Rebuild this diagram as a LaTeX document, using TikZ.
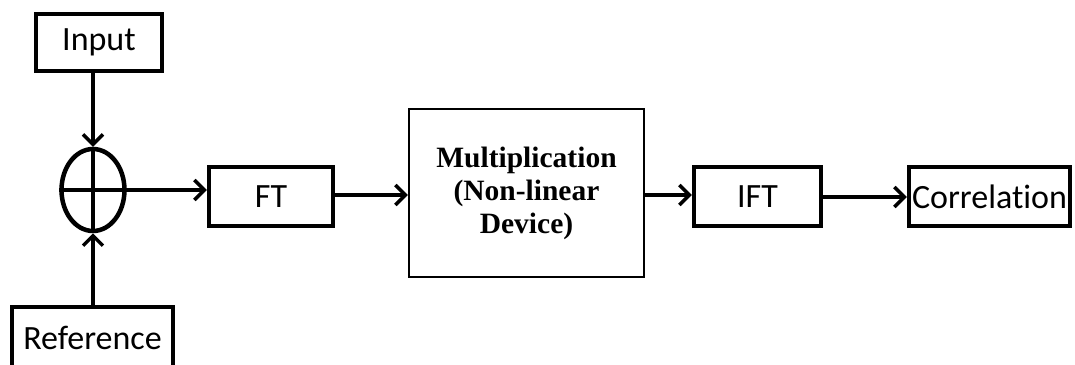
\documentclass[tikz,border=0pt]{standalone}
\usepackage{fontspec}
\setmainfont[Ligatures=NoCommon]{Carlito}
\newfontfamily\serifbold{Liberation Serif}
\usetikzlibrary{arrows.meta,shapes.geometric}
\tikzset{
  x=1pt, y=-1pt,
  blockbox/.style={draw, line width=4.5pt, inner sep=0pt, font=\fontsize{34}{38}\selectfont},
  bigbox/.style={draw, line width=2.2pt, inner sep=0pt, align=center,
    font=\serifbold\bfseries\fontsize{29.5}{33}\selectfont},
  flow/.style={line width=3.5pt, -{Straight Barb[length=10pt,width=20pt,line width=3.5pt]}},
  plain/.style={line width=3.5pt},
}
\begin{document}
\begin{tikzpicture}
\useasboundingbox (0,0) rectangle (1075,364);
\clip (0,0) rectangle (1075,364);
\fill[white] (0,0) rectangle (1075,364);

% blocks
\node[blockbox, minimum width=126pt, minimum height=57pt] (input) at (99,42.5) {Input};
\node[blockbox, minimum width=161pt, minimum height=64pt, text depth=0pt] (ref) at (92.5,339) {\raisebox{3pt}{Reference}};
\node[draw, ellipse, line width=4.5pt, minimum width=63pt, minimum height=82pt, inner sep=0pt] (sum) at (93,190) {};
\node[blockbox, minimum width=124pt, minimum height=59pt] (ft) at (271,196.5) {FT};
\node[bigbox, minimum width=235pt, minimum height=168pt] (mul) at (526.5,193)
  {Multiplication\\(Non-linear\\Device)};
\node[blockbox, minimum width=127pt, minimum height=59pt] (ift) at (757.5,196.5) {IFT};
\node[blockbox, minimum width=161pt, minimum height=59pt] (corr) at (989.5,196.5) {Correlation};

% cross inside the summing junction
\draw[plain] (sum.west) -- (sum.east);
\draw[plain] (sum.north) -- (sum.south);

% signal flow
\draw[flow] (sum.north |- input.south) -- (sum.north);
\draw[flow] (sum.south |- ref.north) -- (sum.south);
\draw[flow] (sum.east) -- (sum.east -| ft.west);
\draw[flow] (ft.east |- 0,195) -- (mul.west |- 0,195);
\draw[flow] (mul.east |- 0,195) -- (ift.west |- 0,195);
\draw[flow] (ift.east |- 0,197) -- (corr.west |- 0,197);
\end{tikzpicture}
\end{document}
